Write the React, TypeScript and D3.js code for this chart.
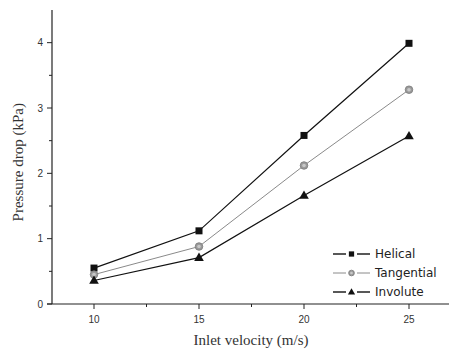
import React from "react";
import * as d3 from "d3";

const velocities = [10, 15, 20, 25];
const helical = [0.55, 1.12, 2.58, 3.99];
const tangential = [0.45, 0.88, 2.12, 3.28];
const involute = [0.36, 0.71, 1.66, 2.57];
const seriesNames = ["Helical", "Tangential", "Involute"];
const xTicks = [10, 15, 20, 25];
const xMinor = [12.5, 17.5, 22.5];
const yTicks = [0, 1, 2, 3, 4];
const yMinor = [0.5, 1.5, 2.5, 3.5];

const W = 449;
const H = 352;
const left = 52;
const bottom = 304;

export default function App() {
  const x = d3.scaleLinear().domain([8, 27]).range([left, 451]);
  const y = d3.scaleLinear().domain([0, 4.5]).range([bottom, 10]);
  const line = d3
    .line<[number, number]>()
    .x((d) => x(d[0]))
    .y((d) => y(d[1]));

  const series = [
    { name: seriesNames[0], vals: helical, color: "#111", marker: "square" },
    { name: seriesNames[1], vals: tangential, color: "#8a8a8a", marker: "circle" },
    { name: seriesNames[2], vals: involute, color: "#111", marker: "triangle" },
  ];

  const marker = (type: string, cx: number, cy: number, color: string, key: string, s = 1) => {
    if (type === "square")
      return <rect key={key} x={cx - 3.5 * s} y={cy - 3.5 * s} width={7 * s} height={7 * s} fill={color} />;
    if (type === "circle")
      return (
        <g key={key}>
          <circle cx={cx} cy={cy} r={3.8 * s} fill="#9a9a9a" stroke="#7a7a7a" strokeWidth={0.8} />
          <circle cx={cx} cy={cy} r={1.8 * s} fill="#c8c8c8" />
        </g>
      );
    const p = d3.symbol().type(d3.symbolTriangle).size(40 * s * s)();
    return <path key={key} d={p || ""} transform={`translate(${cx},${cy + 0.5})`} fill={color} />;
  };

  const legendRows = [254, 273, 292];

  return (
    <svg width={W} height={H} style={{ position: "absolute", left: 0, top: 0, background: "#fff" }}>
      <rect width={W} height={H} fill="#fff" />
      <line x1={left} x2={left} y1={10} y2={bottom} stroke="#222" strokeWidth={1.2} />
      <line x1={left - 5} x2={W} y1={bottom} y2={bottom} stroke="#222" strokeWidth={1.2} />
      {yTicks.map((t) => (
        <g key={"y" + t}>
          <line x1={left - 5} x2={left} y1={y(t)} y2={y(t)} stroke="#222" strokeWidth={1} />
          <text
            x={left - 9}
            y={y(t)}
            dy="0.35em"
            textAnchor="end"
            fontFamily="Liberation Sans, Arial, sans-serif"
            fontSize={10}
            fill="#333"
          >
            {t}
          </text>
        </g>
      ))}
      {yMinor.map((t) => (
        <line key={"ym" + t} x1={left - 3} x2={left} y1={y(t)} y2={y(t)} stroke="#222" strokeWidth={1} />
      ))}
      {xTicks.map((t) => (
        <g key={"x" + t}>
          <line x1={x(t)} x2={x(t)} y1={bottom} y2={bottom + 5} stroke="#222" strokeWidth={1} />
          <text
            x={x(t)}
            y={bottom + 19}
            textAnchor="middle"
            fontFamily="Liberation Sans, Arial, sans-serif"
            fontSize={10}
            fill="#333"
          >
            {t}
          </text>
        </g>
      ))}
      {xMinor.map((t) => (
        <line key={"xm" + t} x1={x(t)} x2={x(t)} y1={bottom} y2={bottom + 3} stroke="#222" strokeWidth={1} />
      ))}
      <text
        x={251}
        y={345}
        textAnchor="middle"
        fontFamily="Liberation Serif, Times New Roman, serif"
        fontSize={15}
        fill="#333"
      >
        Inlet velocity (m/s)
      </text>
      <text
        transform={`translate(23,${y(2.17)}) rotate(-90)`}
        textAnchor="middle"
        fontFamily="Liberation Serif, Times New Roman, serif"
        fontSize={15}
        fill="#333"
      >
        Pressure drop (kPa)
      </text>
      {series.map((s, si) => (
        <g key={s.name}>
          <path
            d={line(velocities.map((v, i) => [v, s.vals[i]] as [number, number])) || ""}
            fill="none"
            stroke={s.color}
            strokeWidth={si === 1 ? 1 : 1.2}
          />
          {velocities.map((v, i) => marker(s.marker, x(v), y(s.vals[i]), s.color, s.name + i))}
        </g>
      ))}
      {series.map((s, i) => (
        <g key={"lg" + s.name}>
          <line x1={333} x2={346} y1={legendRows[i]} y2={legendRows[i]} stroke={s.color} strokeWidth={i === 1 ? 1 : 1.4} />
          <line x1={357} x2={370} y1={legendRows[i]} y2={legendRows[i]} stroke={s.color} strokeWidth={i === 1 ? 1 : 1.4} />
          {marker(s.marker, 351.5, legendRows[i], s.color, "lm" + i, 0.75)}
          <text
            x={375}
            y={legendRows[i]}
            dy="0.35em"
            fontFamily="DejaVu Sans, sans-serif"
            fontSize={12}
            fill="#222"
          >
            {s.name}
          </text>
        </g>
      ))}
    </svg>
  );
}
